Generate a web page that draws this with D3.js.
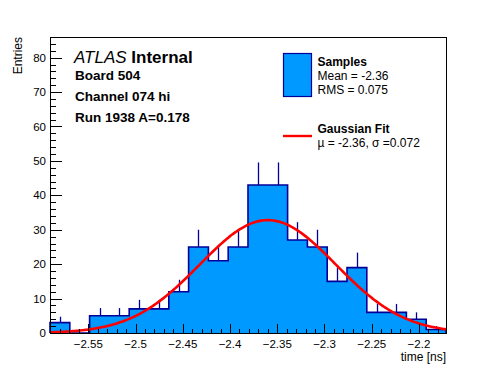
<!DOCTYPE html>
<html>
<head>
<meta charset="utf-8">
<script src="https://cdn.jsdelivr.net/npm/d3@7"></script>
<style>
  body { margin: 0; background: #fff; }
  svg { display: block; font-family: "Liberation Sans", Arial, Helvetica, sans-serif; }
</style>
</head>
<body>
<svg id="chart" width="496" height="372"></svg>
<script>
// Données
const binCounts = [3, 0, 5, 5, 7, 7, 12, 25, 21, 25, 43, 43, 27, 25, 15, 19, 6, 6, 4, 1];
const xRange = [-2.5905, -2.1714];
const xMajorTicks = [-2.55, -2.5, -2.45, -2.4, -2.35, -2.3, -2.25, -2.2];
const yMajorTicks = [0, 10, 20, 30, 40, 50, 60, 70, 80];
const yMax = 86;

// Paramètres de l'ajustement gaussien
const fitMu = -2.36;
const fitSigma = 0.072;
const fitAmp = 32.8;

// Textes
const infoLines = ["Board 504", "Channel 074 hi", "Run 1938 A=0.178"];
const legendSamples = ["Samples", "Mean = -2.36", "RMS = 0.075"];
const legendFit = ["Gaussian Fit", "\u00b5 = -2.36, \u03c3 =0.072"];

const fillColor = "#0099ff";
const lineColor = "#000099";

const frame = { left: 50, top: 37, right: 446, bottom: 333 };

const svg = d3.select("#chart");

const x = d3.scaleLinear().domain(xRange).range([frame.left, frame.right]);
const y = d3.scaleLinear().domain([0, yMax]).range([frame.bottom, frame.top]);

const nBins = binCounts.length;
const binW = (xRange[1] - xRange[0]) / nBins;
const bins = binCounts.map((c, i) => ({
  x0: xRange[0] + i * binW,
  x1: xRange[0] + (i + 1) * binW,
  count: c
}));

const plot = svg.append("g");

// Barres d'erreur (la partie basse est cachée par le remplissage)
plot.append("g")
  .selectAll("line")
  .data(bins.filter(d => d.count > 0))
  .enter()
  .append("line")
  .attr("x1", d => Math.round(x((d.x0 + d.x1) / 2)) + 0.5)
  .attr("x2", d => Math.round(x((d.x0 + d.x1) / 2)) + 0.5)
  .attr("y1", d => y(Math.max(0, d.count - Math.sqrt(d.count))))
  .attr("y2", d => y(d.count + Math.sqrt(d.count)))
  .attr("stroke", lineColor)
  .attr("stroke-width", 1.3);

// Contour en escalier de l'histogramme
const stepPts = [[x(xRange[0]), y(0)]];
bins.forEach(d => {
  stepPts.push([x(d.x0), y(d.count)]);
  stepPts.push([x(d.x1), y(d.count)]);
});
stepPts.push([x(xRange[1]), y(0)]);

plot.append("path")
  .attr("d", d3.line()(stepPts) + "Z")
  .attr("fill", fillColor)
  .attr("stroke", "none");

plot.append("path")
  .attr("d", d3.line()(stepPts))
  .attr("fill", "none")
  .attr("stroke", lineColor)
  .attr("stroke-width", 1.6);

// Courbe de l'ajustement
const fitX = d3.range(0, 301).map(i => xRange[0] + i * (xRange[1] - xRange[0]) / 300);
const gauss = v => fitAmp * Math.exp(-0.5 * Math.pow((v - fitMu) / fitSigma, 2));

plot.append("path")
  .datum(fitX)
  .attr("d", d3.line().x(v => x(v)).y(v => y(gauss(v))))
  .attr("fill", "none")
  .attr("stroke", "#ff0000")
  .attr("stroke-width", 2.6);

// Cadre
svg.append("rect")
  .attr("x", frame.left + 0.5)
  .attr("y", frame.top + 0.5)
  .attr("width", frame.right - frame.left)
  .attr("height", frame.bottom - frame.top)
  .attr("fill", "none")
  .attr("stroke", "#000")
  .attr("stroke-width", 1);

// Axe X
const xMinor = d3.range(-259, -216).map(i => i / 100)
  .filter(v => v >= xRange[0] && v <= xRange[1] && Math.abs(Math.round(v * 100) % 5) !== 0);

const axisG = svg.append("g").attr("shape-rendering", "crispEdges");

axisG.selectAll(".xminor")
  .data(xMinor)
  .enter()
  .append("line")
  .attr("x1", d => Math.round(x(d)) + 0.5)
  .attr("x2", d => Math.round(x(d)) + 0.5)
  .attr("y1", frame.bottom)
  .attr("y2", frame.bottom - 4.5)
  .attr("stroke", "#000");

axisG.selectAll(".xmajor")
  .data(xMajorTicks)
  .enter()
  .append("line")
  .attr("x1", d => Math.round(x(d)) + 0.5)
  .attr("x2", d => Math.round(x(d)) + 0.5)
  .attr("y1", frame.bottom)
  .attr("y2", frame.bottom - 9)
  .attr("stroke", "#000");

svg.append("g")
  .selectAll("text")
  .data(xMajorTicks)
  .enter()
  .append("text")
  .attr("x", d => x(d))
  .attr("y", frame.bottom + 15)
  .attr("text-anchor", "middle")
  .style("font-size", "11.5px")
  .text(d => String(d).replace("-", "\u2212"));

// Axe Y
const yMinor = d3.range(0, yMax + 1, 2).filter(v => v % 10 !== 0);

axisG.selectAll(".yminor")
  .data(yMinor)
  .enter()
  .append("line")
  .attr("x1", frame.left)
  .attr("x2", frame.left + 6)
  .attr("y1", d => Math.round(y(d)) + 0.5)
  .attr("y2", d => Math.round(y(d)) + 0.5)
  .attr("stroke", "#000");

axisG.selectAll(".ymajor")
  .data(yMajorTicks)
  .enter()
  .append("line")
  .attr("x1", frame.left)
  .attr("x2", frame.left + 12)
  .attr("y1", d => Math.round(y(d)) + 0.5)
  .attr("y2", d => Math.round(y(d)) + 0.5)
  .attr("stroke", "#000");

svg.append("g")
  .selectAll("text")
  .data(yMajorTicks)
  .enter()
  .append("text")
  .attr("x", frame.left - 4)
  .attr("y", d => y(d))
  .attr("dy", "0.36em")
  .attr("text-anchor", "end")
  .style("font-size", "11.5px")
  .text(d => d);

// Titres des axes
svg.append("text")
  .attr("x", frame.right)
  .attr("y", 361)
  .attr("text-anchor", "end")
  .style("font-size", "12px")
  .text("time [ns]");

svg.append("text")
  .attr("transform", `translate(22,${frame.top}) rotate(-90)`)
  .attr("text-anchor", "end")
  .style("font-size", "12px")
  .text("Entries");

// Étiquette ATLAS
const atlas = svg.append("text")
  .attr("x", 74)
  .attr("y", 62.5)
  .style("font-size", "17px");
atlas.append("tspan").style("font-style", "italic").text("ATLAS");
atlas.append("tspan").style("font-weight", "bold").text(" Internal");

svg.append("g")
  .selectAll("text")
  .data(infoLines)
  .enter()
  .append("text")
  .attr("x", 75)
  .attr("y", (d, i) => 80 + i * 20.8)
  .style("font-size", "13.5px")
  .style("font-weight", "bold")
  .text(d => d);

// Légende
svg.append("rect")
  .attr("x", 283.5)
  .attr("y", 53.5)
  .attr("width", 28)
  .attr("height", 43)
  .attr("fill", fillColor)
  .attr("stroke", lineColor)
  .attr("stroke-width", 1.2);

svg.append("g")
  .selectAll("text")
  .data(legendSamples)
  .enter()
  .append("text")
  .attr("x", 317.5)
  .attr("y", (d, i) => [65.5, 80, 94][i])
  .style("font-size", "12px")
  .style("font-weight", (d, i) => i === 0 ? "bold" : "normal")
  .text(d => d);

svg.append("line")
  .attr("x1", 283)
  .attr("x2", 312)
  .attr("y1", 136)
  .attr("y2", 136)
  .attr("stroke", "#ff0000")
  .attr("stroke-width", 2.4);

svg.append("g")
  .selectAll("text")
  .data(legendFit)
  .enter()
  .append("text")
  .attr("x", 317.5)
  .attr("y", (d, i) => [133, 146.5][i])
  .style("font-size", "12px")
  .style("font-weight", (d, i) => i === 0 ? "bold" : "normal")
  .text(d => d);
</script>
</body>
</html>
